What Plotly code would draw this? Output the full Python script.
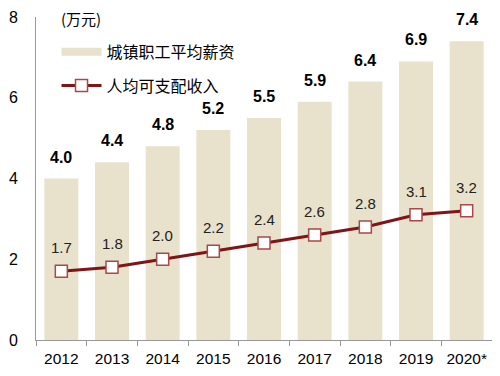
import plotly.graph_objects as go

years = ["2012", "2013", "2014", "2015", "2016", "2017", "2018", "2019", "2020*"]
salary = [4.0, 4.4, 4.8, 5.2, 5.5, 5.9, 6.4, 6.9, 7.4]
income = [1.7, 1.8, 2.0, 2.2, 2.4, 2.6, 2.8, 3.1, 3.2]
y_ticks = [0, 2, 4, 6, 8]

BAR = "#E8E1CB"
LINE = "#7E1618"
FONT = "Liberation Sans, Arial, Noto Sans CJK SC, sans-serif"

fig = go.Figure()
fig.add_trace(go.Bar(
    x=years, y=salary, marker=dict(color=BAR, line=dict(width=0)),
    showlegend=False, name="城镇职工平均薪资",
))
# legend-only entry for the bar series
fig.add_trace(go.Scatter(
    x=[years[0]], y=[None], mode="lines", name="城镇职工平均薪资",
    line=dict(color=BAR, width=8), legendgroup="a",
))
fig.add_trace(go.Scatter(
    x=years, y=income, mode="lines+markers", name="人均可支配收入",
    line=dict(color=LINE, width=3), legendgroup="b",
    marker=dict(symbol="square", size=12, color="white",
                line=dict(color="#A84848", width=1.5)),
    cliponaxis=False,
))
for i, v in enumerate(salary):
    fig.add_annotation(x=i, y=v, text=f"<b>{v:.1f}</b>", showarrow=False,
                       yanchor="bottom", yshift=11,
                       font=dict(size=16, color="#000", family=FONT))
for i, v in enumerate(income):
    fig.add_annotation(x=i, y=v, text=f"{v:.1f}", showarrow=False,
                       yanchor="bottom", yshift=13,
                       font=dict(size=15, color="#222", family=FONT))

fig.add_annotation(xref="paper", yref="paper", x=0.05, y=0.995, xanchor="left",
                   yanchor="middle", text="(万元)", showarrow=False,
                   font=dict(size=15, color="#000", family="Noto Sans CJK SC"))

fig.update_layout(
    width=492, height=368,
    margin=dict(l=28, r=8, t=9, b=36),
    paper_bgcolor="white", plot_bgcolor="white",
    bargap=0.33,
    font=dict(family=FONT, size=15, color="#000"),
    legend=dict(x=0.045, y=0.945, xanchor="left", yanchor="top",
                bgcolor="rgba(0,0,0,0)", itemwidth=40, tracegroupgap=10,
                font=dict(size=16, family="Noto Sans CJK SC", color="#000")),
    showlegend=True,
)
fig.update_xaxes(type="category", categoryorder="array", categoryarray=years,
                 range=[-0.5, len(years) - 0.5], automargin=False,
                 showline=True, linecolor="#999", linewidth=1,
                 ticks="outside", tickson="boundaries", ticklen=5, tickcolor="#999",
                 ticklabelstandoff=4, tickangle=0,
                 showgrid=False, tickfont=dict(size=15.5, family=FONT))
fig.update_yaxes(range=[0, 8], tickvals=y_ticks, showline=True, linecolor="#999",
                 linewidth=1, showgrid=False, zeroline=False, ticks="",
                 automargin=False,
                 ticklabelstandoff=14, tickfont=dict(size=16, family=FONT))

fig.write_html("out.html")
